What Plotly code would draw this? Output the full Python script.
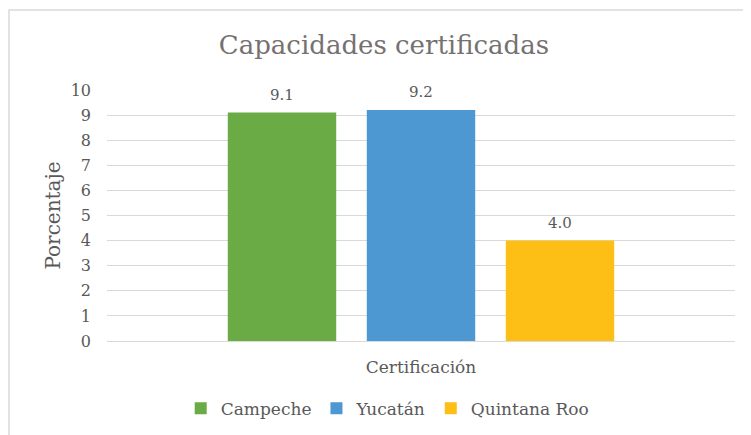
import plotly.graph_objects as go

categories = ["Certificación"]
states = ["Campeche", "Yucatán", "Quintana Roo"]
values = [9.1, 9.2, 4.0]
colors = ["#6AAB46", "#4D97D2", "#FDBF16"]
y_ticks = list(range(0, 11))

FONT = "DejaVu Serif"
GRAY = "#595959"
BARGAP = 0.336

fig = go.Figure()
for name, val, color in zip(states, values, colors):
    fig.add_trace(
        go.Bar(
            x=categories,
            y=[val],
            name=name,
            marker={"color": color, "line": {"width": 0}},
        )
    )

# value labels sit a little higher above the bars than plotly's "outside" text
slot = (1 - BARGAP) / len(states)
for i, val in enumerate(values):
    fig.add_annotation(
        x=(i - (len(states) - 1) / 2) * slot,
        y=val,
        xref="x",
        yref="y",
        text=f"{val:.1f}",
        showarrow=False,
        yanchor="middle",
        yshift=18,
        font={"family": FONT, "size": 15, "color": GRAY},
    )

# the page adds an 8px body margin, so the figure is drawn 8px smaller
fig.update_layout(
    width=743,
    height=427,
    barmode="group",
    bargap=BARGAP,
    bargroupgap=0.22,
    paper_bgcolor="white",
    plot_bgcolor="white",
    margin={"l": 99, "r": 16, "t": 82, "b": 94, "autoexpand": False},
    font={"family": FONT, "color": GRAY},
    title={
        "text": "Capacidades certificadas",
        "x": 0.506,
        "xanchor": "center",
        "y": 0.913,
        "yanchor": "middle",
        "font": {"family": FONT, "size": 26, "color": "#767171"},
    },
    legend={
        "orientation": "h",
        "x": 0.447,
        "xanchor": "center",
        "y": -0.27,
        "yanchor": "middle",
        "font": {"family": FONT, "size": 17, "color": GRAY},
        "itemwidth": 30,
    },
    showlegend=True,
    shapes=[
        dict(
            type="rect",
            xref="paper",
            yref="paper",
            x0=-0.156,
            x1=1.2,
            y0=-0.6,
            y1=1.319,
            line={"color": "#D9D9D9", "width": 1.5},
            fillcolor="rgba(0,0,0,0)",
            layer="below",
        )
    ],
)

fig.update_yaxes(
    range=[0, 10],
    tickvals=y_ticks,
    showgrid=True,
    gridcolor="#D9D9D9",
    gridwidth=1,
    zeroline=False,
    automargin=False,
    tickfont={"family": FONT, "size": 16, "color": GRAY},
    ticklabelstandoff=15,
    title={"text": "Porcentaje", "font": {"family": FONT, "size": 20, "color": GRAY}, "standoff": 4},
)
fig.update_xaxes(
    showline=True,
    linecolor="#D9D9D9",
    linewidth=1,
    ticks="",
    automargin=False,
    tickfont={"family": FONT, "size": 17, "color": GRAY},
    ticklabelstandoff=11,
)

fig.write_html("out.html")
